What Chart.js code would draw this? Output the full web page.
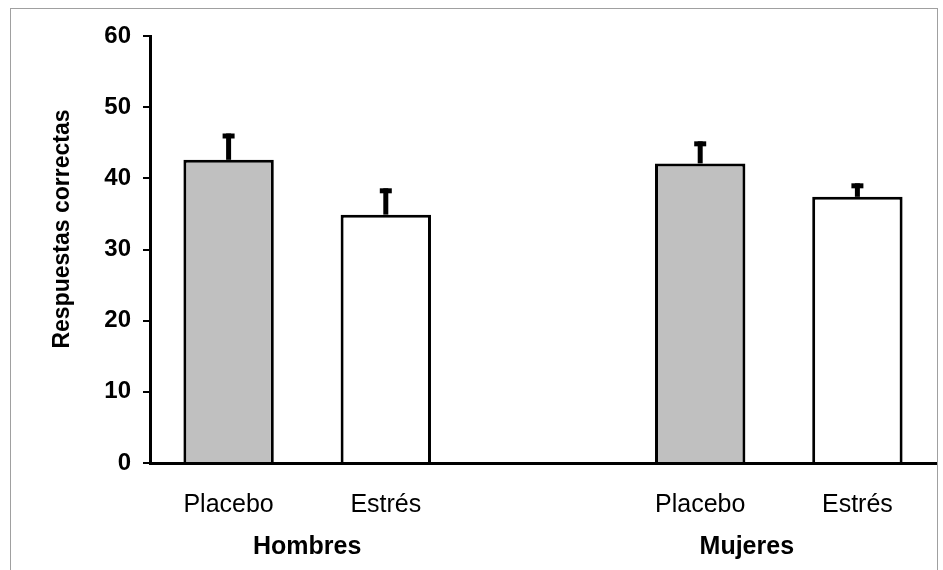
<!DOCTYPE html>
<html>
<head>
<meta charset="utf-8">
<script src="https://cdn.jsdelivr.net/npm/chart.js@4/dist/chart.umd.min.js"></script>
<style>
  body { margin: 0; background: #fff; }
  #wrap { width: 943px; height: 570px; }
</style>
</head>
<body>
<div id="wrap"><canvas id="chart" width="943" height="570"></canvas></div>
<script>
// data
const conditions = ['Placebo', 'Estrés', '', 'Placebo', 'Estrés'];
const groups = ['Hombres', 'Mujeres'];
const means = [42.6, 34.9, null, 42.1, 37.4];
const errors = [3.7, 3.7, null, 3.1, 1.9];
const yTicks = [0, 10, 20, 30, 40, 50, 60];
const yTitle = 'Respuestas correctas';

const barColors = ['#c0c0c0', '#ffffff', '#ffffff', '#c0c0c0', '#ffffff'];
const FONT = '"Liberation Sans", Arial, sans-serif';

// frame around the whole figure + the rotated y title
const framePlugin = {
    id: 'frame',
    beforeDraw(chart) {
        const ctx = chart.ctx;
        ctx.save();
        ctx.strokeStyle = '#a0a0a0';
        ctx.lineWidth = 1;
        ctx.strokeRect(10.5, 8.5, 927, 600);
        ctx.translate(63, 229);
        ctx.rotate(-Math.PI / 2);
        ctx.fillStyle = '#000';
        ctx.font = 'bold 23px ' + FONT;
        ctx.textAlign = 'center';
        ctx.textBaseline = 'middle';
        ctx.fillText(yTitle, 0, 0);
        ctx.restore();
    }
};

// upward error bars + group names under the categories
const extrasPlugin = {
    id: 'extras',
    afterDatasetsDraw(chart) {
        const ctx = chart.ctx;
        const y = chart.scales.y;
        const x = chart.scales.x;
        const meta = chart.getDatasetMeta(0);
        ctx.save();
        ctx.strokeStyle = '#000';
        errors.forEach((e, i) => {
            if (e == null || means[i] == null) return;
            const bx = meta.data[i].x;
            const top = y.getPixelForValue(means[i] + e);
            const base = y.getPixelForValue(means[i]);
            ctx.lineWidth = 5;
            ctx.beginPath();
            ctx.moveTo(bx, base);
            ctx.lineTo(bx, top);
            ctx.stroke();
            ctx.beginPath();
            ctx.moveTo(bx - 6, top + 2.5);
            ctx.lineTo(bx + 6, top + 2.5);
            ctx.stroke();
        });
        ctx.fillStyle = '#000';
        ctx.font = 'bold 25px ' + FONT;
        ctx.textAlign = 'center';
        ctx.textBaseline = 'middle';
        // excel put the second group name a bit left of the bar pair
        const shift = [0, -32];
        groups.forEach((g, k) => {
            const gx = (x.getPixelForValue(k * 3) + x.getPixelForValue(k * 3 + 1)) / 2;
            ctx.fillText(g, gx + shift[k], 547);
        });
        ctx.restore();
    }
};

new Chart(document.getElementById('chart'), {
    type: 'bar',
    data: {
        labels: conditions,
        datasets: [{
            data: means,
            backgroundColor: barColors,
            borderColor: '#000',
            borderWidth: 3,
            categoryPercentage: 1,
            barPercentage: 0.575
        }]
    },
    options: {
        responsive: false,
        animation: false,
        layout: { padding: { top: 36, right: 7, left: 0, bottom: 0 } },
        plugins: {
            legend: { display: false },
            tooltip: { enabled: false }
        },
        scales: {
            x: {
                grid: { display: false },
                border: { color: '#000', width: 3 },
                ticks: {
                    color: '#000',
                    padding: 19,
                    font: { family: FONT, size: 25 }
                },
                afterFit(scale) { scale.height = 107; }
            },
            y: {
                min: 0,
                max: 60,
                afterBuildTicks(scale) { scale.ticks = yTicks.map(v => ({ value: v })); },
                grid: {
                    drawOnChartArea: false,
                    drawTicks: true,
                    tickLength: 7,
                    color: '#000',
                    lineWidth: 2
                },
                border: { color: '#000', width: 3 },
                ticks: {
                    color: '#000',
                    padding: 12,
                    font: { family: FONT, size: 24, weight: 'bold' }
                },
                afterFit(scale) { scale.width = 150; }
            }
        }
    },
    plugins: [framePlugin, extrasPlugin]
});
</script>
</body>
</html>
